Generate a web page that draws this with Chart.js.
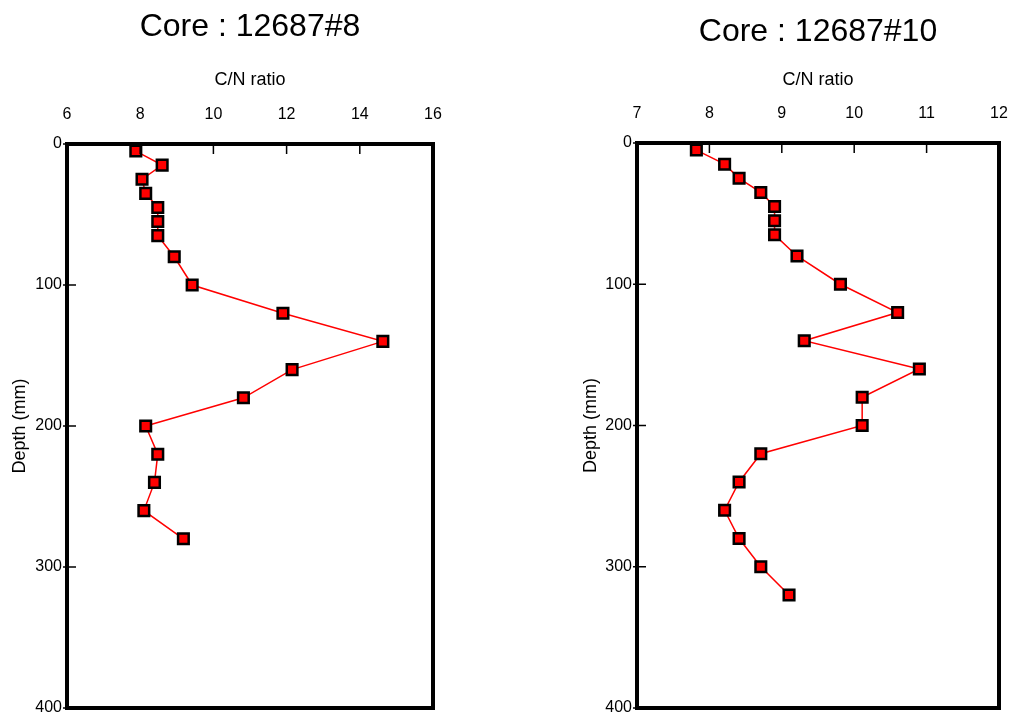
<!DOCTYPE html>
<html>
<head>
<meta charset="utf-8">
<script src="https://cdn.jsdelivr.net/npm/chart.js@4.4.1/dist/chart.umd.min.js"></script>
<style>
    body { margin: 0; background: #fff; }
    #wrap { position: relative; width: 1012px; height: 715px; overflow: hidden; }
    canvas { position: absolute; top: 0; }
</style>
</head>
<body>
<div id="wrap">
    <canvas id="core8_chart" width="500" height="715" style="left:0px"></canvas>
    <canvas id="core10_chart" width="506" height="715" style="left:506px"></canvas>
</div>
<script>
// Core 12687#8
const core8_depth = [5, 15, 25, 35, 45, 55, 65, 80, 100, 120, 140, 160, 180, 200, 220, 240, 260, 280];
const core8_cn = [7.88, 8.6, 8.05, 8.15, 8.48, 8.48, 8.48, 8.93, 9.42, 11.9, 14.63, 12.15, 10.82, 8.15, 8.48, 8.39, 8.1, 9.18];
const core8_x_ticks = [6, 8, 10, 12, 14, 16];

// Core 12687#10
const core10_depth = [5, 15, 25, 35, 45, 55, 65, 80, 100, 120, 140, 160, 180, 200, 220, 240, 260, 280, 300, 320];
const core10_cn = [7.82, 8.21, 8.41, 8.71, 8.9, 8.9, 8.9, 9.21, 9.81, 10.6, 9.31, 10.9, 10.11, 10.11, 8.71, 8.41, 8.21, 8.41, 8.71, 9.1];
const core10_x_ticks = [7, 8, 9, 10, 11, 12];

const depth_ticks = [0, 100, 200, 300, 400];

const FONT = "'Liberation Sans', Arial, sans-serif";

// thick frame, inward ticks and the core title
const framePlugin = {
    id: "frame",
    afterDraw(chart, args, opts) {
        const ctx = chart.ctx;
        const a = chart.chartArea;
        const xs = chart.scales.x;
        const ys = chart.scales.y;
        ctx.save();
        ctx.strokeStyle = "#000";
        ctx.lineWidth = 1.5;
        ctx.beginPath();
        opts.xTicks.forEach(v => {
            const px = xs.getPixelForValue(v);
            ctx.moveTo(px, a.top);
            ctx.lineTo(px, a.top + 10);
        });
        depth_ticks.forEach(v => {
            const py = ys.getPixelForValue(v);
            ctx.moveTo(a.left - 4, py);
            ctx.lineTo(a.left + 9, py);
        });
        ctx.stroke();
        ctx.lineWidth = 4;
        ctx.strokeRect(a.left, a.top, a.right - a.left, a.bottom - a.top);
        ctx.fillStyle = "#000";
        ctx.font = `32px ${FONT}`;
        ctx.textAlign = "center";
        ctx.textBaseline = "alphabetic";
        ctx.fillText(opts.title, (a.left + a.right) / 2, opts.titleY);
        ctx.restore();
    }
};

const make_chart = (name, title, cn, depth, xTicks, opt) => {
    const ctx = document.getElementById(`${name}_chart`);
    const points = cn.map((v, i) => ({ x: v, y: depth[i] }));
    return new Chart(ctx, {
        type: "scatter",
        data: {
            datasets: [{
                data: points,
                showLine: true,
                borderColor: "#ff0000",
                borderWidth: 1.5,
                pointStyle: "rect",
                pointRadius: 7.5,
                pointHoverRadius: 7.5,
                pointBackgroundColor: "#ff0000",
                pointBorderColor: "#000",
                pointBorderWidth: 2.5,
                clip: false
            }]
        },
        options: {
            responsive: false,
            animation: false,
            layout: {
                autoPadding: false,
                padding: { left: 0, top: 0, right: opt.padRight, bottom: opt.padBottom }
            },
            plugins: {
                legend: { display: false },
                tooltip: { enabled: false },
                frame: { title: title, titleY: opt.titleY, xTicks: xTicks }
            },
            scales: {
                x: {
                    type: "linear",
                    position: "top",
                    min: xTicks[0],
                    max: xTicks[xTicks.length - 1],
                    afterBuildTicks: (s) => { s.ticks = xTicks.map(v => ({ value: v })); },
                    afterFit: (s) => { s.height = opt.top; s.paddingLeft = 0; s.paddingRight = 0; },
                    grid: { display: false, drawTicks: false },
                    border: { display: false },
                    ticks: { color: "#000", padding: 20, font: { family: FONT, size: 16 } },
                    title: {
                        display: true, text: "C/N ratio", color: "#000",
                        padding: { top: 69, bottom: 0 }, font: { family: FONT, size: 18 }
                    }
                },
                y: {
                    type: "linear",
                    reverse: true,
                    min: 0,
                    max: 400,
                    afterBuildTicks: (s) => { s.ticks = depth_ticks.map(v => ({ value: v })); },
                    afterFit: (s) => { s.width = opt.left; s.paddingTop = 0; s.paddingBottom = 0; },
                    grid: { display: false, drawTicks: false },
                    border: { display: false },
                    ticks: { color: "#000", padding: 5, font: { family: FONT, size: 16 } },
                    title: {
                        display: true, text: "Depth (mm)", color: "#000",
                        padding: { top: opt.yTitlePad, bottom: 0 }, font: { family: FONT, size: 18 }
                    }
                }
            }
        },
        plugins: [framePlugin]
    });
};

make_chart("core8", "Core : 12687#8", core8_cn, core8_depth, core8_x_ticks,
    { left: 67, top: 144, padRight: 67, padBottom: 7, titleY: 36, yTitlePad: 9 });
make_chart("core10", "Core : 12687#10", core10_cn, core10_depth, core10_x_ticks,
    { left: 131, top: 143, padRight: 13, padBottom: 7, titleY: 41, yTitlePad: 74 });
</script>
</body>
</html>
